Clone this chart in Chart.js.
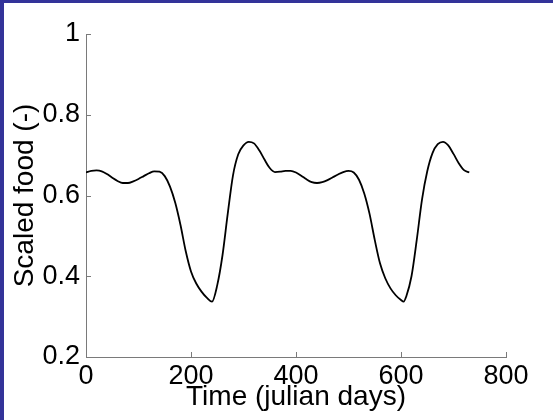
<!DOCTYPE html>
<html lang="en">
<head>
    <meta charset="UTF-8">
    <title>Scaled food</title>
    <script src="https://cdn.jsdelivr.net/npm/chart.js"></script>
    <style>
        body { margin: 0; background: #333399; width: 553px; height: 420px; overflow: hidden; }
        .frame { position: absolute; left: 4px; top: 3px; width: 549px; height: 417px; background: #fff; }
    </style>
</head>
<body>
    <div class="frame">
        <canvas id="foodChart" width="549" height="417"></canvas>
    </div>

    <script>
        // time in julian days and scaled food
        const days = [0, 10, 20, 30, 40, 50, 60, 70, 80, 90, 100, 110, 120, 130, 140, 150, 160, 170, 180, 190,
            200, 210, 220, 230, 240, 250, 260, 270, 280, 290, 300, 310, 320, 330, 340, 350, 360, 370, 380, 390,
            400, 410, 420, 430, 440, 450, 460, 470, 480, 490, 500, 510, 520, 530, 540, 550, 560, 570, 580, 590,
            600, 605, 610, 620, 630, 640, 650, 660, 670, 680, 690, 700, 710, 720, 730];
        const food = [0.657, 0.661, 0.662, 0.660, 0.653, 0.644, 0.636, 0.631, 0.631, 0.635, 0.641, 0.648, 0.655, 0.660, 0.659, 0.648, 0.622, 0.582, 0.527, 0.462,
            0.412, 0.382, 0.362, 0.347, 0.337, 0.378, 0.452, 0.555, 0.650, 0.702, 0.724, 0.733, 0.729, 0.712, 0.689, 0.668, 0.658, 0.659, 0.661, 0.661,
            0.657, 0.649, 0.640, 0.633, 0.631, 0.633, 0.638, 0.645, 0.652, 0.658, 0.661, 0.657, 0.639, 0.605, 0.555, 0.490, 0.432, 0.395, 0.370, 0.353,
            0.341, 0.337, 0.350, 0.400, 0.490, 0.590, 0.660, 0.705, 0.727, 0.733, 0.724, 0.703, 0.680, 0.663, 0.657];
        const xTicks = [0, 200, 400, 600, 800];
        const yTicks = [0.2, 0.4, 0.6, 0.8, 1];

        Chart.defaults.font.family = "'Liberation Sans', Arial, sans-serif";
        Chart.defaults.color = "#000";

        // matlab style ticks pointing into the plot
        const inwardTicks = {
            id: "inwardTicks",
            afterDatasetsDraw(chart) {
                let ctx = chart.ctx;
                let x = chart.scales.x, y = chart.scales.y;
                ctx.save();
                ctx.strokeStyle = "#7a7a7a";
                ctx.lineWidth = 1;
                ctx.beginPath();
                xTicks.forEach(v => {
                    let px = Math.round(x.getPixelForValue(v)) + 0.5;
                    ctx.moveTo(px, y.bottom);
                    ctx.lineTo(px, y.bottom - 5);
                });
                yTicks.forEach(v => {
                    let py = Math.round(y.getPixelForValue(v)) + 0.5;
                    ctx.moveTo(x.left, py);
                    ctx.lineTo(x.left + 5, py);
                });
                ctx.stroke();
                ctx.restore();
            }
        };

        new Chart(document.getElementById("foodChart"), {
            type: "line",
            data: {
                datasets: [{
                    data: days.map((d, i) => ({ x: d, y: food[i] })),
                    borderColor: "#000",
                    borderWidth: 1.8,
                    pointRadius: 0,
                    cubicInterpolationMode: "monotone",
                    fill: false
                }]
            },
            options: {
                responsive: false,
                animation: false,
                layout: { padding: { top: 31, right: 47, bottom: 0, left: 0 } },
                plugins: { legend: { display: false }, tooltip: { enabled: false } },
                scales: {
                    x: {
                        type: "linear",
                        min: 0,
                        max: 800,
                        afterBuildTicks: s => { s.ticks = xTicks.map(v => ({ value: v })); },
                        afterFit: s => { s.height = 63; },
                        grid: { display: false },
                        border: { color: "#7a7a7a", width: 1 },
                        ticks: { font: { size: 27 }, padding: -5, maxRotation: 0, autoSkip: false },
                        title: { display: true, text: "Time (julian days)", font: { size: 28 }, padding: { top: 0, bottom: 6 } }
                    },
                    y: {
                        min: 0.2,
                        max: 1,
                        afterBuildTicks: s => { s.ticks = yTicks.map(v => ({ value: v })); },
                        afterFit: s => { s.width = 82; },
                        grid: { display: false },
                        border: { color: "#7a7a7a", width: 1 },
                        ticks: { font: { size: 27 }, padding: -2, callback: v => String(+v.toFixed(1)) },
                        title: { display: true, text: "Scaled food (-)", font: { size: 28 }, padding: { top: 4, bottom: 0 } }
                    }
                }
            },
            plugins: [inwardTicks]
        });
    </script>
</body>
</html>
